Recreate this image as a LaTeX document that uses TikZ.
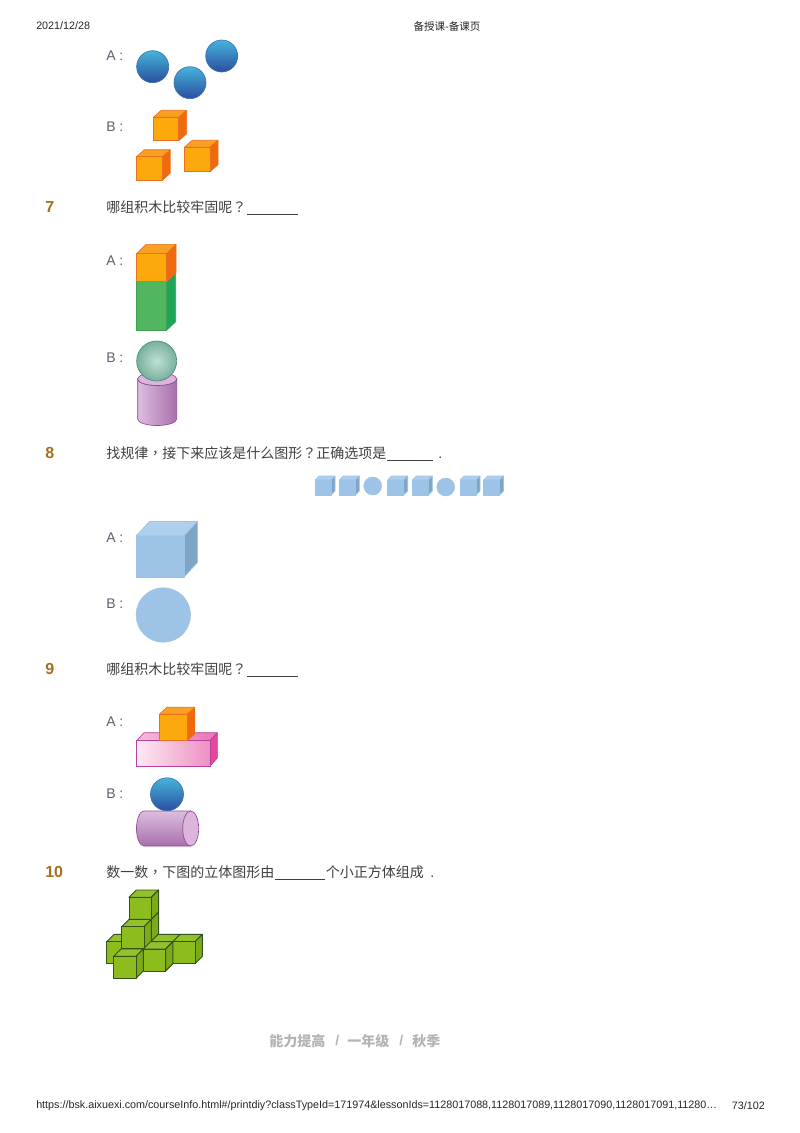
\documentclass[tikz,border=0pt]{standalone}
\usepackage{fontspec}
\setmainfont{Liberation Sans}
\newfontfamily\cjk{Noto Sans CJK SC}
\newfontfamily\cjkp{Noto Sans CJK TC}
\definecolor{orgF}{HTML}{FBA90C}\definecolor{orgT}{HTML}{F9A024}\definecolor{orgS}{HTML}{EE6A0C}\definecolor{orgL}{HTML}{E8701E}
\definecolor{grnF}{HTML}{52B560}\definecolor{grnT}{HTML}{52B560}\definecolor{grnS}{HTML}{1EA55A}\definecolor{grnL}{HTML}{3EA050}
\definecolor{bluF}{HTML}{9DC3E6}\definecolor{bluT}{HTML}{AFCFEC}\definecolor{bluS}{HTML}{7FA5C6}\definecolor{bluL}{HTML}{9DC3E6}
\definecolor{pnkS}{HTML}{E5479C}\definecolor{pnkL}{HTML}{B8429C}
\definecolor{lmeF}{HTML}{8CBC1E}\definecolor{lmeT}{HTML}{94C02C}\definecolor{lmeS}{HTML}{7CAA1A}\definecolor{lmeL}{HTML}{34521A}
\definecolor{bodytxt}{HTML}{404040}
\definecolor{opttxt}{HTML}{5C6070}
\definecolor{numtxt}{HTML}{A5701F}
\definecolor{foottxt}{HTML}{B4B4B4}
\definecolor{ballL}{HTML}{3F72B0}
\definecolor{ballT}{HTML}{45B4DC}
\definecolor{ballB}{HTML}{2A4E9E}
\definecolor{cylL}{HTML}{8E4E96}
\definecolor{cylA}{HTML}{DDBEDF}
\definecolor{cylB}{HTML}{A86FAC}
\definecolor{cylC}{HTML}{DDB4DC}
\definecolor{tealA}{HTML}{BFE0D2}
\definecolor{tealB}{HTML}{78B0A0}
\definecolor{tealL}{HTML}{4A8A78}
\definecolor{pinkA}{HTML}{FDEAF4}
\definecolor{pinkB}{HTML}{EE8FC2}
\definecolor{pinkC}{HTML}{F6BCDB}
\definecolor{pinkD}{HTML}{E874B4}
\newcommand{\qm}{{\cjkp ？}}
\newcommand{\cm}{{\cjkp ，}}
\tikzset{
  txt/.style={inner sep=0pt,anchor=west,text=bodytxt,font=\cjk\fontsize{10.5pt}{12pt}\selectfont},
  opt/.style={inner sep=0pt,anchor=west,text=opttxt,font=\fontsize{10.5pt}{12pt}\selectfont},
  num/.style={inner sep=0pt,anchor=west,text=numtxt,font=\bfseries\fontsize{12pt}{14pt}\selectfont},
  hdr/.style={inner sep=0pt,anchor=west,text=black!85,font=\fontsize{8.07pt}{10pt}\selectfont},
  foot/.style={inner sep=0pt,anchor=west,text=foottxt,font=\cjk\bfseries\fontsize{10.5pt}{12pt}\selectfont},
  dotmark/.style={inner sep=0pt,anchor=base west,text=bodytxt,font=\fontsize{10.5pt}{12pt}\selectfont},
  blank/.style={draw=bodytxt,line width=0.6pt},
  flatblue/.style={fill=bluF,draw=bluF,line width=0.3pt},
  cylline/.style={draw=cylL,line width=0.5pt},
  cubeline/.style={line width=0.5pt,line join=round},
}
\newcommand{\boxcube}[7]{%
  \pgfmathsetmacro\bxR{#2+#4}\pgfmathsetmacro\bxB{#3+#5}%
  \pgfmathsetmacro\bxRR{#2+#4+#6}\pgfmathsetmacro\bxT{#3-#7}%
  \pgfmathsetmacro\bxLL{#2+#6}\pgfmathsetmacro\bxBB{#3+#5-#7}%
  \path[draw=#1L,fill=#1T,cubeline] (#2,#3) -- (\bxLL,\bxT) -- (\bxRR,\bxT) -- (\bxR,#3) -- cycle;
  \path[draw=#1L,fill=#1S,cubeline] (\bxR,#3) -- (\bxRR,\bxT) -- (\bxRR,\bxBB) -- (\bxR,\bxB) -- cycle;
  \path[draw=#1L,fill=#1F,cubeline] (#2,#3) rectangle (\bxR,\bxB);
}
\newcommand{\shinyball}[3]{%
  \draw[draw=ballL,line width=0.5pt,top color=ballT,bottom color=ballB] (#1,#2) circle[radius=#3*0.75pt];
}
\newcommand{\limecube}[2]{\boxcube{lme}{#1}{#2}{22.3}{22}{7.3}{7.3}}
\begin{document}
\begin{tikzpicture}[x=0.75pt,y=-0.75pt]
\path[use as bounding box,fill=white] (0,0) rectangle (800,1133);
% header / footer
\node[hdr] (date) at (36,26) {2021/12/28};
\node[hdr,anchor=center,font=\cjk\fontsize{7.9pt}{10pt}\selectfont] (title) at (447,26) {备授课-备课页};
\node[hdr] (url) at (36,1106) {https://bsk.aixuexi.com/courseInfo.html\#/printdiy?classTypeId=171974\&lessonIds=1128017088,1128017089,1128017090,1128017091,11280…};
\node[hdr,anchor=east] (page) at (765,1106) {73/102};
% first options
\node[opt] (a6) at (106,56) {A :};
\node[opt] (b6) at (106,127) {B :};
\shinyball{152.7}{66.7}{16}
\shinyball{190}{82.7}{16}
\shinyball{221.7}{56}{16}
\boxcube{org}{153.3}{117.3}{25.4}{23.4}{8}{7}
\boxcube{org}{136.7}{156.7}{26}{23.4}{7.5}{7}
\boxcube{org}{184.3}{147.3}{25.7}{24.4}{8}{7}
% Q7
\node[num] (n7) at (45,207) {7};
\node[txt] (q7) at (106,207) {哪组积木比较牢固呢\qm};
\draw[blank] (247,214) -- (298,214);
\node[opt] (a7) at (106,261) {A :};
\node[opt] (b7) at (106,358) {B :};
\boxcube{grn}{136.7}{281.7}{29.5}{49}{9.5}{9}
\boxcube{org}{136.7}{253.7}{30}{28}{9.3}{9.3}
\path[cylline,left color=cylA,right color=cylB] (137.7,379) -- (137.7,419) arc[x radius=19.5,y radius=6.5,start angle=180,end angle=0] -- (176.7,379) arc[x radius=19.5,y radius=6.5,start angle=0,end angle=180] -- cycle;
\path[cylline,fill=cylC] (157.2,379) ellipse[x radius=19.5*0.75pt,y radius=6.5*0.75pt];
\path[draw=tealL,line width=0.5pt,inner color=tealA,outer color=tealB] (156.7,361) circle[radius=20*0.75pt];
% Q8
\node[num] (n8) at (45,453) {8};
\node[txt] (q8) at (106,453) {找规律\cm 接下来应该是什么图形\qm 正确选项是};
\draw[blank] (387,460) -- (433,460);
\node[dotmark] (d8) at (438,458) {.};
\boxcube{blu}{315}{480}{16}{15}{4}{4}
\boxcube{blu}{339.3}{480}{16}{15}{4}{4}
\path[flatblue] (372.7,486) circle[radius=9*0.75pt];
\boxcube{blu}{387.7}{480}{16}{15}{4}{4}
\boxcube{blu}{412.3}{480}{16}{15}{4}{4}
\path[flatblue] (445.7,487) circle[radius=9*0.75pt];
\boxcube{blu}{460}{480}{16}{15}{4}{4}
\boxcube{blu}{483.5}{480}{16}{15}{4}{4}
\node[opt] (a8) at (106,538) {A :};
\node[opt] (b8) at (106,604) {B :};
\boxcube{blu}{136}{536}{48}{41}{13.5}{14.5}
\path[flatblue] (163.3,615) circle[radius=27.3*0.75pt];
% Q9
\node[num] (n9) at (45,669) {9};
\node[txt] (q9) at (106,669) {哪组积木比较牢固呢\qm};
\draw[blank] (247,676) -- (298,676);
\node[opt] (a9) at (106,722) {A :};
\node[opt] (b9) at (106,794) {B :};
\path[draw=pnkL,left color=pinkC,right color=pinkD,cubeline] (136.7,740.7) -- (144,732.7) -- (217.3,732.7) -- (210,740.7) -- cycle;
\path[draw=pnkL,fill=pnkS,cubeline] (210,740.7) -- (217.3,732.7) -- (217.3,758) -- (210,766) -- cycle;
\path[draw=pnkL,left color=pinkA,right color=pinkB,line width=0.5pt] (136.7,740.7) rectangle (210,766);
\boxcube{org}{159.3}{714.3}{28}{26.4}{7.5}{7}
\path[cylline,top color=cylA,bottom color=cylB] (190.7,811) -- (144,811) arc[x radius=7.5,y radius=17.5,start angle=-90,end angle=-270] -- (190.7,846) -- cycle;
\path[cylline,fill=cylC] (190.7,828.5) ellipse[x radius=8*0.75pt,y radius=17.5*0.75pt];
\shinyball{167}{794.3}{16.5}
% Q10
\node[num] (n10) at (45,872) {10};
\node[txt] (q10a) at (106,872) {数一数\cm 下图的立体图形由};
\draw[blank] (275,879) -- (325,879);
\node[txt] (q10b) at (325.5,872) {个小正方体组成};
\node[dotmark] (d10) at (430,877) {.};
\begin{scope}[cubeline/.style={line width=0.7pt,line join=round}]
\limecube{106.7}{941.7}
\limecube{129}{941.5}
\limecube{129}{919.3}
\limecube{129}{897.3}
\limecube{150.7}{941.7}
\limecube{172.7}{941.7}
\limecube{121.7}{926.7}
\limecube{143.3}{949}
\limecube{113.7}{956.3}
\end{scope}
% footer label
\node[foot] (f1) at (269,1041) {能力提高};
\node[foot,font=\fontsize{10.5pt}{12pt}\selectfont\bfseries] (s1) at (335,1041) {/};
\node[foot] (f2) at (347,1041) {一年级};
\node[foot,font=\fontsize{10.5pt}{12pt}\selectfont\bfseries] (s2) at (399,1041) {/};
\node[foot] (f3) at (412,1041) {秋季};
\end{tikzpicture}
\end{document}
